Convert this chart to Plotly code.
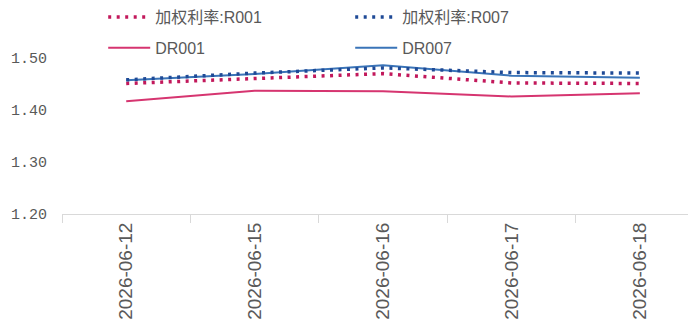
import plotly.graph_objects as go

dates = ["2026-06-12", "2026-06-15", "2026-06-16", "2026-06-17", "2026-06-18"]
r001 = [1.451, 1.461, 1.470, 1.452, 1.451]
r007 = [1.458, 1.471, 1.481, 1.472, 1.471]
dr001 = [1.417, 1.437, 1.436, 1.426, 1.432]
dr007 = [1.457, 1.469, 1.486, 1.466, 1.462]

yticks = [1.20, 1.30, 1.40, 1.50]
yticktext = ["1.20", "1.30", "1.40", "1.50"]

PINK_DOT = "#C2185B"
PINK_LINE = "#D63570"
BLUE_DOT = "#1F4A96"
BLUE_LINE = "#3A74B8"

fig = go.Figure()
fig.add_trace(go.Scatter(x=dates, y=dr001, name="DR001", mode="lines",
                         line=dict(color=PINK_LINE, width=2), legend="legend2"))
fig.add_trace(go.Scatter(x=dates, y=dr007, name="DR007", mode="lines",
                         line=dict(color=BLUE_LINE, width=2), legend="legend2"))
fig.add_trace(go.Scatter(x=dates, y=r001, name="加权利率:R001", mode="lines",
                         line=dict(color=PINK_DOT, width=3.5, dash="3px,5.5px"), legend="legend"))
fig.add_trace(go.Scatter(x=dates, y=r007, name="加权利率:R007", mode="lines",
                         line=dict(color=BLUE_DOT, width=3.5, dash="3px,5.5px"), legend="legend"))

legfont = dict(family="Liberation Sans Narrow, Liberation Sans, Noto Sans CJK SC", size=16, color="#595959")

fig.update_layout(
    width=688, height=326,
    margin=dict(l=62, r=0, t=6, b=112, autoexpand=False),
    paper_bgcolor="white", plot_bgcolor="white",
    showlegend=True,
    legend=dict(orientation="h", xref="container", yref="container",
                x=0.15, y=1.0, xanchor="left", yanchor="top",
                entrywidth=190, entrywidthmode="pixels", itemwidth=42,
                font=legfont, bgcolor="rgba(0,0,0,0)", traceorder="normal"),
    legend2=dict(orientation="h", xref="container", yref="container",
                 x=0.15, y=0.905, xanchor="left", yanchor="top",
                 entrywidth=190, entrywidthmode="pixels", itemwidth=42,
                 font=legfont, bgcolor="rgba(0,0,0,0)", traceorder="normal"),
    xaxis=dict(type="category", range=[-0.5, 4.375],
               showline=True, linecolor="#D9D9D9", linewidth=1,
               ticks="outside", tickson="boundaries", ticklen=8, tickcolor="#D9D9D9",
               tickangle=-90, showgrid=False, zeroline=False,
               tickfont=dict(family="Liberation Sans, Arial", size=19, color="#595959")),
    yaxis=dict(range=[1.2, 1.6], tickvals=yticks, ticktext=yticktext,
               showgrid=False, zeroline=False, showline=False, ticks="",
               ticklabelstandoff=14,
               tickfont=dict(family="Liberation Mono, DejaVu Sans Mono", size=15, color="#595959")),
)

fig.write_html("out.html")
